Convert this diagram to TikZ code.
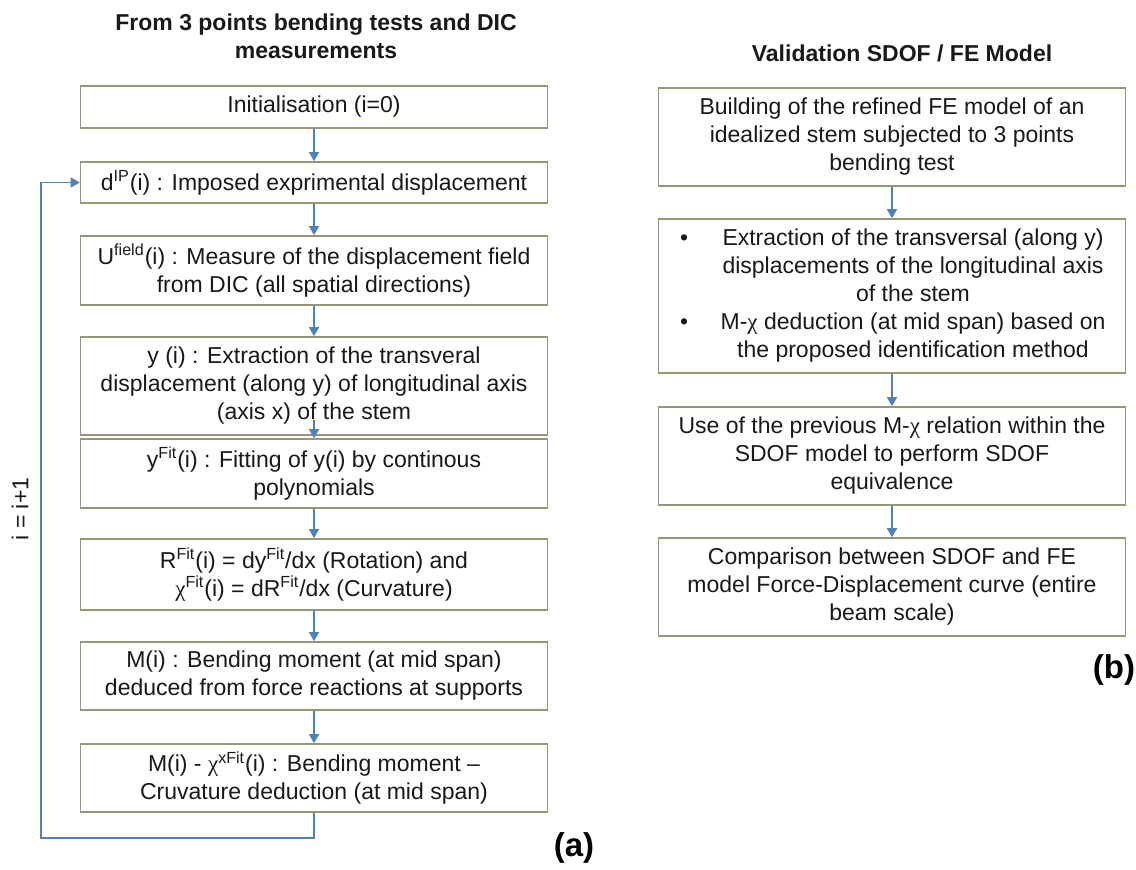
\documentclass[tikz,border=0pt]{standalone}
\usepackage{fontspec}
\setmainfont{Liberation Sans}
\newfontfamily\grkfont{Liberation Serif}
\usetikzlibrary{arrows.meta}
\definecolor{boxc}{RGB}{152,150,118}
\definecolor{arrc}{RGB}{79,129,189}
\definecolor{txtc}{RGB}{25,25,25}
\newcommand{\chiG}{{\grkfont χ}}
\begin{document}
\begin{tikzpicture}[x=0.5pt,y=-0.5pt,
  box/.style={draw=boxc, line width=0.8pt, fill=white, inner sep=0pt,
    minimum width=233.5pt, align=center, text=txtc,
    font=\fontsize{11.5}{14}\selectfont},
  arr/.style={draw=arrc, line width=0.75pt, -{Triangle[length=4.5pt,width=5pt]}},
  ttl/.style={font=\fontsize{11.5}{14}\selectfont\bfseries, align=center, text=txtc},
  lab/.style={font=\fontsize{16.5}{19}\selectfont\bfseries, text=black}]
\useasboundingbox (0,0) rectangle (1136,869);

% ---- left column ----
\node[ttl] (tL) at (316,36) {From 3 points bending tests and DIC\\measurements};
\node[box, minimum height=21pt] (init) at (314,107) {Initialisation (i=0)};
\node[box, minimum height=20.5pt] (dip) at (314,182.5) {d\textsuperscript{IP}(i) : Imposed exprimental displacement};
\node[box, minimum height=34.5pt] (ufield) at (314,270.5) {U\textsuperscript{field}(i) : Measure of the displacement field\\from DIC (all spatial directions)};
\node[box, minimum height=49pt] (yi) at (314,386) {y (i) : Extraction of the transveral\\displacement (along y) of longitudinal axis\\(axis x) of the stem};
\node[box, minimum height=34.5pt] (yfit) at (314,473.5) {y\textsuperscript{Fit}(i) : Fitting of y(i) by continous\\polynomials};
\node[box, minimum height=35.5pt] (rfit) at (314,574.5) {R\textsuperscript{Fit}(i) = dy\textsuperscript{Fit}/dx (Rotation) and\\\chiG\textsuperscript{Fit}(i) = dR\textsuperscript{Fit}/dx (Curvature)};
\node[box, minimum height=34pt] (mom) at (314,676) {M(i) : Bending moment (at mid span)\\deduced from force reactions at supports};
\node[box, minimum height=34pt] (mchi) at (314,778) {M(i) - \chiG\textsuperscript{xFit}(i) : Bending moment --\\Cruvature deduction (at mid span)};

\draw[arr] (init) -- (dip);
\draw[arr] (dip) -- (ufield);
\draw[arr] (ufield) -- (yi);
\draw[arr] ([yshift=8pt]yi.south) -- (yfit.north);
\draw[arr] (yfit) -- (rfit);
\draw[arr] (rfit) -- (mom);
\draw[arr] (mom) -- (mchi);
\coordinate (lb) at (41,838);
\draw[arr] (mchi.south) |- (lb) |- (dip.west);
\node[font=\fontsize{11.5}{14}\selectfont, text=txtc, rotate=90] (inc) at (20,509) {i = i+1};
\node[lab] (la) at (574,848) {(a)};

% ---- right column ----
\node[ttl] (tR) at (902,53) {Validation SDOF / FE Model};
\node[box, minimum height=49pt] (b1) at (892,137) {Building of the refined FE model of an\\idealized stem subjected to 3 points\\bending test};
\node[box, minimum height=77pt, align=left] (b2) at (892,296) {%
\makebox[21pt][l]{•}\makebox[191pt]{Extraction of the transversal (along y)}\\
\makebox[21pt]{}\makebox[191pt]{displacements of the longitudinal axis}\\
\makebox[21pt]{}\makebox[191pt]{of the stem}\\
\makebox[21pt][l]{•}\makebox[191pt]{M-\chiG{} deduction (at mid span) based on}\\
\makebox[21pt]{}\makebox[191pt]{the proposed identification method}};
\node[box, minimum height=49pt] (b3) at (892,456) {Use of the previous M-\chiG{} relation within the\\SDOF model to perform SDOF\\equivalence};
\node[box, minimum height=49pt] (b4) at (892,587) {Comparison between SDOF and FE\\model Force-Displacement curve (entire\\beam scale)};
\draw[arr] (b1) -- (b2);
\draw[arr] (b2) -- (b3);
\draw[arr] (b3) -- (b4);
\node[lab] (lbb) at (1114,670) {(b)};
\end{tikzpicture}
\end{document}
